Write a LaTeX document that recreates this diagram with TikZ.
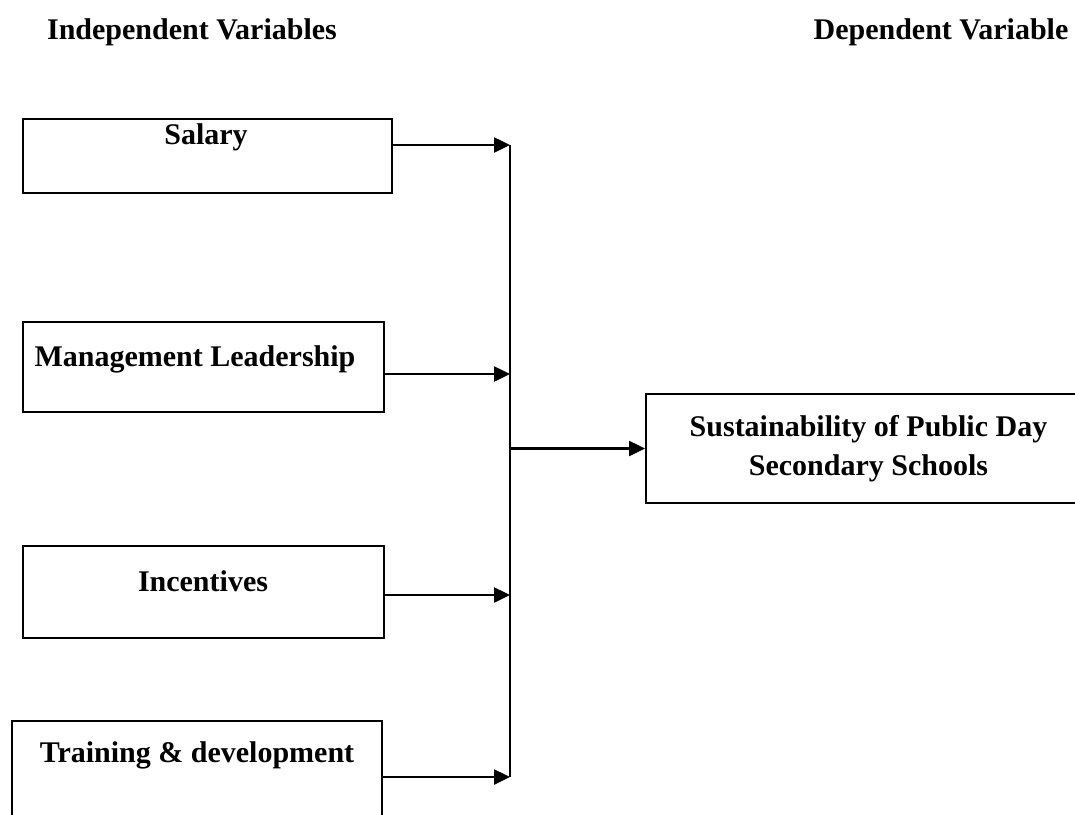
\documentclass[tikz,border=0pt]{standalone}
\usepackage{fontspec}
\setmainfont{Liberation Serif}
\usetikzlibrary{arrows.meta,positioning}
\begin{document}
\begin{tikzpicture}[x=1pt,y=-1pt,
    box/.style={draw,line width=2pt,anchor=north west,inner sep=0pt},
    lbl/.style={font=\bfseries\fontsize{30}{39}\selectfont,align=center},
    flow/.style={line width=2.5pt,-{Triangle[length=16pt,width=15pt]}}]
    \useasboundingbox (0,0) rectangle (1075,814);
    % headings
    \node[lbl] (indep) at (192,32) {Independent Variables};
    \node[lbl] (dep) at (941,32) {Dependent Variable};
    % independent boxes
    \node[box,minimum width=369pt,minimum height=74pt] (salary) at (22,118) {};
    \node[box,minimum width=361pt,minimum height=90pt] (mgmt) at (22,321) {};
    \node[box,minimum width=361pt,minimum height=92pt] (incent) at (22,545) {};
    \node[box,minimum width=370pt,minimum height=110pt] (train) at (11,720) {};
    \node[lbl] (salary-t) at (206,137) {Salary};
    \node[lbl] (mgmt-t) at (195,359) {Management Leadership};
    \node[lbl] (incent-t) at (203,581) {Incentives};
    \node[lbl] (train-t) at (197,755) {Training \& development};
    % dependent box
    \node[box,lbl,minimum width=445pt,minimum height=109pt] (sustain) at (645,393)
        {Sustainability of Public Day\\Secondary Schools};
    % bus
    \coordinate (j1) at (510,145);
    \coordinate (j2) at (510,374);
    \coordinate (j3) at (510,595);
    \coordinate (j4) at (510,777);
    \draw[line width=2pt] (j1) -- (j4);
    \draw[flow] (salary.east |- j1) -- (j1);
    \draw[flow] (mgmt.east |- j2) -- (j2);
    \draw[flow] (incent.east |- j3) -- (j3);
    \draw[flow] (train.east |- j4) -- (j4);
    \draw[flow] (sustain.west -| j1) -- (sustain.west);
\end{tikzpicture}
\end{document}
